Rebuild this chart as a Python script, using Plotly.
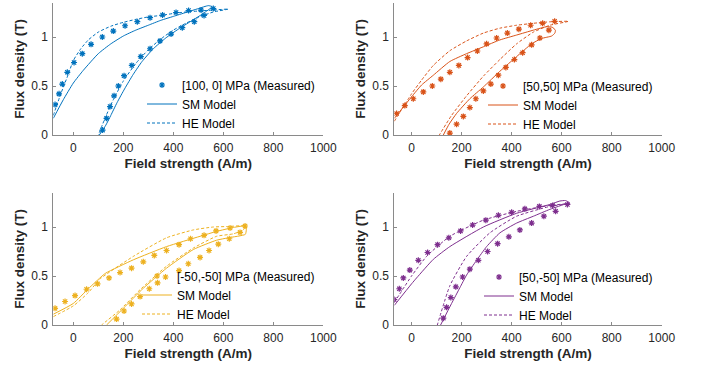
import plotly.graph_objects as go

# ---------------- data ----------------
x_ticks = [0, 200, 400, 600, 800, 1000]
y_ticks = [0, 0.5, 1]
y_tick_text = ["0", "0.5", "1"]

labels = ["[100, 0] MPa (Measured)", "[50,50] MPa (Measured)",
          "[-50,-50] MPa (Measured)", "[50,-50] MPa (Measured)"]
colors = ["#0072BD", "#D95319", "#EDB120", "#7E2F8E"]

# Panel 1
meas1_h = [-73, -57, -44, -24, 3, 36, 71, 116, 160, 207, 256, 307, 357, 411, 461, 511, 560,
           523, 484, 436, 391, 347, 307, 270, 234, 203, 180, 163, 147, 133, 117]
meas1_b = [0.31, 0.42, 0.52, 0.64, 0.74, 0.83, 0.925, 1.0, 1.06, 1.115, 1.156, 1.197, 1.224, 1.25, 1.27, 1.275, 1.29,
           1.22, 1.156, 1.095, 1.03, 0.96, 0.88, 0.80, 0.71, 0.605, 0.50, 0.40, 0.29, 0.17, 0.05]
sm1_h = [-80, -40, 0, 40, 100, 150, 200, 250, 300, 350, 400, 450, 500, 540, 555,
         520, 470, 420, 370, 320, 275, 240, 205, 175, 150, 130, 104]
sm1_b = [0.17, 0.36, 0.53, 0.66, 0.83, 0.93, 1.01, 1.07, 1.12, 1.17, 1.21, 1.25, 1.29, 1.32, 1.31,
         1.24, 1.16, 1.08, 0.99, 0.88, 0.75, 0.62, 0.47, 0.33, 0.20, 0.10, 0.0]
he1_h = [-80, -50, -20, 0, 30, 60, 100, 150, 200, 250, 300, 350, 400, 450, 500, 560, 620,
         560, 500, 450, 400, 350, 300, 250, 200, 160, 130, 100]
he1_b = [0.20, 0.42, 0.62, 0.76, 0.88, 0.97, 1.05, 1.11, 1.15, 1.18, 1.205, 1.22, 1.24, 1.255, 1.265, 1.275, 1.285,
         1.255, 1.20, 1.14, 1.07, 0.98, 0.87, 0.73, 0.55, 0.36, 0.19, 0.0]

# Panel 2
meas2_h = [-60, -27, 7, 47, 83, 117, 153, 189, 224, 263, 300, 340, 383, 429, 476, 524, 572,
           549, 513, 480, 444, 411, 377, 347, 317, 287, 257, 233, 207, 180, 153]
meas2_b = [0.22, 0.30, 0.37, 0.44, 0.50, 0.57, 0.64, 0.71, 0.79, 0.857, 0.93, 0.99, 1.04, 1.08, 1.12, 1.14, 1.16,
           1.07, 0.99, 0.92, 0.84, 0.77, 0.69, 0.61, 0.52, 0.45, 0.37, 0.28, 0.19, 0.11, 0.02]
sm2_h = [-69, 0, 40, 87, 153, 220, 287, 353, 420, 487, 540, 562, 575, 573,
         560, 520, 480, 420, 353, 287, 233, 180, 150, 127]
sm2_b = [0.17, 0.39, 0.51, 0.61, 0.75, 0.83, 0.90, 0.97, 1.02, 1.07, 1.105, 1.10, 1.07, 1.04,
         1.01, 0.985, 0.93, 0.80, 0.65, 0.49, 0.37, 0.22, 0.11, 0.0]
he2_h = [-69, 0, 40, 87, 153, 220, 287, 353, 420, 487, 553, 627,
         553, 487, 420, 353, 287, 220, 160, 111]
he2_b = [0.14, 0.42, 0.56, 0.71, 0.86, 0.96, 1.04, 1.09, 1.12, 1.14, 1.155, 1.16,
         1.12, 1.05, 0.93, 0.77, 0.60, 0.40, 0.20, 0.0]

# Panel 3
meas3_h = [-73, -33, 7, 53, 97, 143, 187, 233, 280, 324, 373, 423, 469, 523, 571, 627, 687,
           667, 624, 580, 543, 507, 460, 423, 369, 337, 304, 267, 233, 203, 173]
meas3_b = [0.17, 0.24, 0.30, 0.365, 0.42, 0.48, 0.535, 0.58, 0.645, 0.71, 0.76, 0.82, 0.88, 0.915, 0.96, 0.99, 1.01,
           0.945, 0.88, 0.825, 0.76, 0.69, 0.625, 0.555, 0.49, 0.43, 0.37, 0.29, 0.215, 0.143, 0.06]
sm3_h = [-80, 0, 60, 115, 130, 240, 373, 507, 573, 640, 690, 692,
         688, 620, 573, 480, 373, 280, 200, 133]
sm3_b = [0.11, 0.22, 0.37, 0.50, 0.53, 0.665, 0.80, 0.905, 0.955, 0.995, 1.01, 0.97,
         0.925, 0.89, 0.865, 0.77, 0.58, 0.375, 0.17, 0.0]
he3_h = [-80, 0, 60, 107, 240, 373, 480, 560, 620, 687,
         680, 640, 573, 480, 373, 267, 187, 113]
he3_b = [0.085, 0.195, 0.33, 0.47, 0.70, 0.89, 0.97, 1.0, 1.005, 1.01,
         0.97, 0.93, 0.905, 0.785, 0.60, 0.36, 0.155, 0.0]

# Panel 4
meas4_h = [-69, -49, -33, -7, 27, 64, 104, 149, 196, 244, 297, 347, 400, 453, 511, 564, 623,
           576, 529, 480, 433, 389, 344, 304, 267, 233, 204, 177, 157, 140, 127]
meas4_b = [0.26, 0.37, 0.48, 0.56, 0.66, 0.74, 0.82, 0.89, 0.96, 1.02, 1.07, 1.12, 1.15, 1.185, 1.21, 1.22, 1.23,
           1.16, 1.11, 1.04, 0.97, 0.90, 0.83, 0.75, 0.66, 0.57, 0.49, 0.39, 0.28, 0.18, 0.07]
sm4_h = [-69, 0, 20, 87, 153, 287, 420, 553, 593, 615, 630,
         620, 553, 487, 420, 353, 300, 260, 220, 193, 160, 116]
sm4_b = [0.20, 0.42, 0.48, 0.67, 0.80, 1.0, 1.14, 1.23, 1.265, 1.27, 1.25,
         1.24, 1.18, 1.11, 1.04, 0.94, 0.80, 0.66, 0.51, 0.38, 0.22, 0.0]
he4_h = [-69, 0, 60, 153, 287, 420, 553, 633,
         553, 420, 313, 220, 153, 103]
he4_b = [0.23, 0.50, 0.70, 0.905, 1.07, 1.16, 1.22, 1.24,
         1.21, 1.11, 0.94, 0.70, 0.40, 0.0]

panels = [
    (meas1_h, meas1_b, sm1_h, sm1_b, he1_h, he1_b),
    (meas2_h, meas2_b, sm2_h, sm2_b, he2_h, he2_b),
    (meas3_h, meas3_b, sm3_h, sm3_b, he3_h, he3_b),
    (meas4_h, meas4_b, sm4_h, sm4_b, he4_h, he4_b),
]

# ---------------- layout geometry ----------------
W, H = 701, 374
x_doms = [(53.3, 323.3), (394.3, 661.7), (53.3, 323.3), (394.3, 661.7)]
y_doms = [(2.7, 135), (2.7, 135), (192.7, 325), (192.7, 325)]
x_ranges = [[-80, 1000], [-69, 1000], [-80, 1000], [-69, 1000]]
legend_pos = [(142, 104), (483, 105), (137, 295), (479, 296)]

FONT = "Liberation Sans, Arial, sans-serif"
TXT = "#262626"
AX = "#8a8a8a"

fig = go.Figure()
layout = dict(
    width=W, height=H,
    margin=dict(l=0, r=0, t=0, b=0, pad=0, autoexpand=False),
    paper_bgcolor="white", plot_bgcolor="white",
    font=dict(family=FONT, size=12, color=TXT),
    showlegend=True,
)

for i, (mh, mb, sh, sb, hh, hb) in enumerate(panels):
    n = i + 1
    xa = "x" if n == 1 else f"x{n}"
    ya = "y" if n == 1 else f"y{n}"
    lg = "legend" if n == 1 else f"legend{n}"
    c = colors[i]
    fig.add_trace(go.Scatter(
        x=mh, y=mb, mode="markers", name=labels[i], xaxis=xa, yaxis=ya, legend=lg,
        marker=dict(symbol="asterisk-open", size=5, color=c, line=dict(color=c, width=1.2)),
    ))
    fig.add_trace(go.Scatter(
        x=sh, y=sb, mode="lines", name="SM Model", xaxis=xa, yaxis=ya, legend=lg,
        line=dict(color=c, width=1, shape="spline", smoothing=0.5),
    ))
    fig.add_trace(go.Scatter(
        x=hh, y=hb, mode="lines", name="HE Model", xaxis=xa, yaxis=ya, legend=lg,
        line=dict(color=c, width=1, dash="3px,2px", shape="spline", smoothing=0.5),
    ))

    xd = x_doms[i]
    yd = y_doms[i]
    xkey = "xaxis" if n == 1 else f"xaxis{n}"
    ykey = "yaxis" if n == 1 else f"yaxis{n}"
    layout[xkey] = dict(
        domain=[xd[0] / W, xd[1] / W], anchor=ya, range=x_ranges[i], automargin=False,
        tickvals=x_ticks, ticks="inside", ticklen=3, tickcolor=AX, tickwidth=1,
        showline=True, linecolor=AX, linewidth=1, showgrid=False, zeroline=False,
        tickfont=dict(size=12, color=TXT, family=FONT), ticklabelstandoff=2,
        title=dict(text="<b>Field strength (A/m)</b>", standoff=4,
                   font=dict(size=13.5, color=TXT, family=FONT)),
    )
    layout[ykey] = dict(
        domain=[(H - yd[1]) / H, (H - yd[0]) / H], anchor=xa, range=[0, 1.35], automargin=False,
        tickvals=y_ticks, ticktext=y_tick_text, ticks="inside", ticklen=3, tickcolor=AX,
        showline=True, linecolor=AX, linewidth=1, showgrid=False, zeroline=False,
        tickfont=dict(size=12, color=TXT, family=FONT), ticklabelstandoff=2,
        title=dict(text="<b>Flux density (T)</b>", standoff=3,
                   font=dict(size=13.5, color=TXT, family=FONT)),
    )
    lx, ly = legend_pos[i]
    layout[lg] = dict(
        x=lx / W, y=(H - ly) / H, xanchor="left", yanchor="middle",
        bgcolor="rgba(0,0,0,0)", borderwidth=0, itemwidth=30,
        font=dict(size=12, color="#000000", family=FONT),
        tracegroupgap=0,
    )

fig.update_layout(**layout)
fig.write_html(
    "out.html",
    config={"displayModeBar": False},
    post_script="document.body.style.margin='0';document.body.style.overflow='hidden';",
)
